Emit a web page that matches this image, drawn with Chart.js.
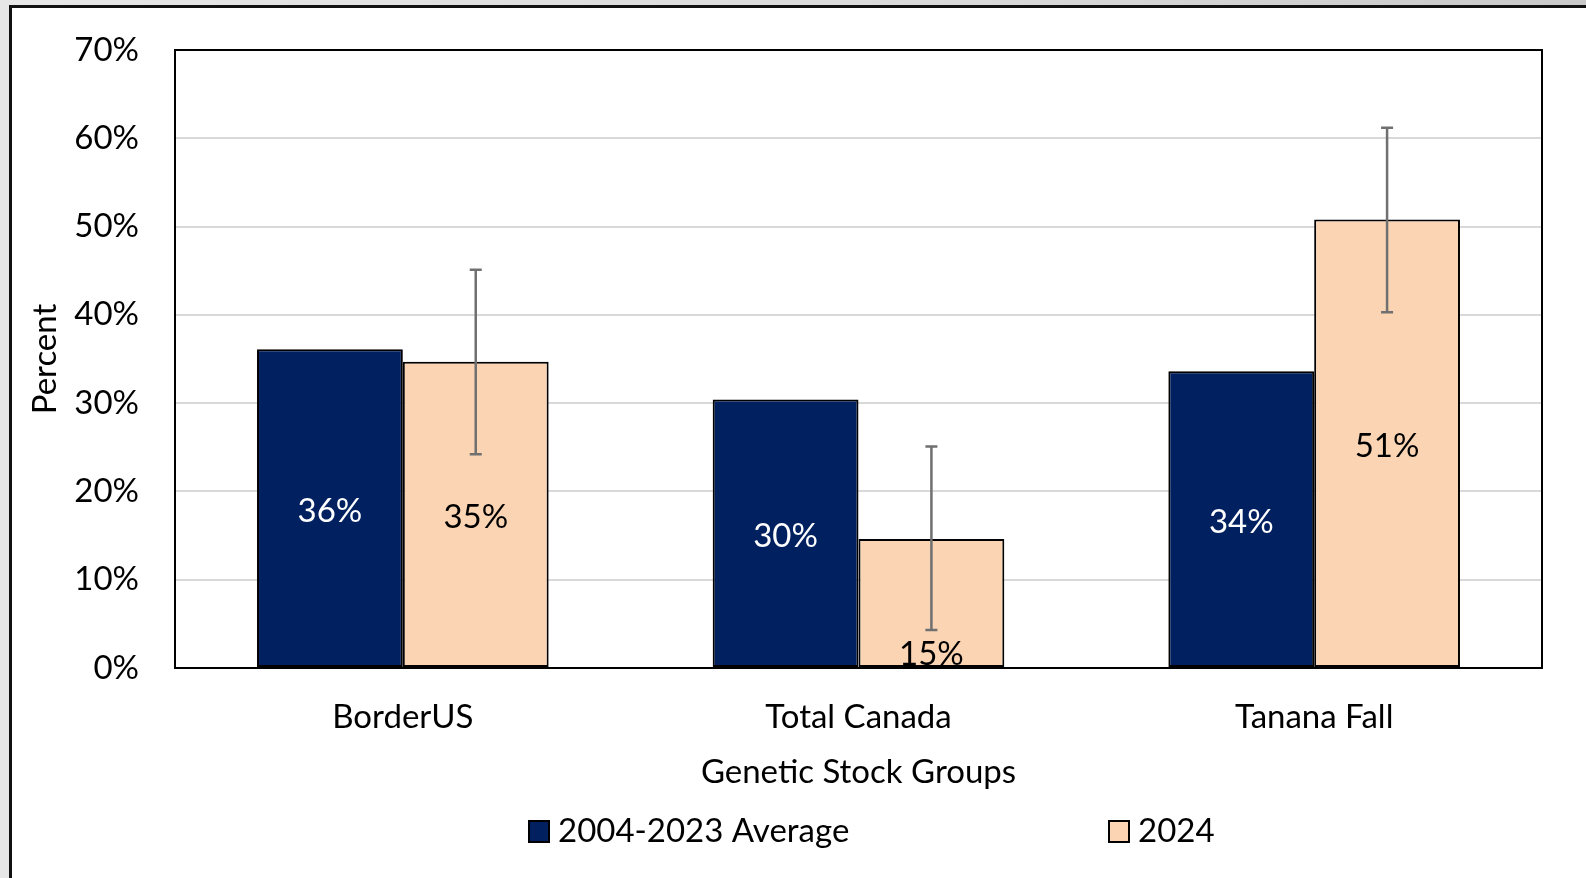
<!DOCTYPE html>
<html>
<head>
<meta charset="utf-8">
<script src="https://cdn.jsdelivr.net/npm/chart.js@4"></script>
<style>
  html, body { margin: 0; padding: 0; }
  body { width: 1586px; height: 878px; overflow: hidden; background: linear-gradient(90deg, #e6e6e6 0%, #d9d9d9 60%, #c9c9c9 100%); position: relative; }
  #frame { position: absolute; left: 9px; top: 5px; width: 1577px; height: 873px; border-left: 3px solid #111; border-top: 3px solid #111; background: #fff; }
  #wrap { position: absolute; left: 0; top: 0; width: 1574px; height: 870px; }
</style>
</head>
<body>
<div id="frame"><div id="wrap"><canvas id="c" width="1574" height="870"></canvas></div></div>
<script>
// ---- data ----
const categories = ['BorderUS', 'Total Canada', 'Tanana Fall'];
const seriesNames = ['2004-2023 Average', '2024'];
const avgValues = [36.1, 30.4, 33.6];
const y2024Values = [34.7, 14.6, 50.8];
const y2024ErrLow = [24.2, 4.3, 40.3];
const y2024ErrHigh = [45.1, 25.1, 61.2];
const avgLabels = ['36%', '30%', '34%'];
const y2024Labels = ['35%', '15%', '51%'];
const yTicks = [0, 10, 20, 30, 40, 50, 60, 70];

const FONT = 'Lato, "Noto Sans", sans-serif';
const FS = 33;

const errorBarPlugin = {
  id: 'errorBars',
  afterDatasetsDraw(chart) {
    const ctx = chart.ctx;
    const yScale = chart.scales.y;
    const meta = chart.getDatasetMeta(1);
    ctx.save();
    ctx.strokeStyle = '#707070';
    ctx.lineWidth = 2.5;
    meta.data.forEach((bar, i) => {
      const x = bar.x;
      const yl = yScale.getPixelForValue(y2024ErrLow[i]);
      const yh = yScale.getPixelForValue(y2024ErrHigh[i]);
      ctx.beginPath();
      ctx.moveTo(x, yl); ctx.lineTo(x, yh);
      ctx.moveTo(x - 6, yl); ctx.lineTo(x + 6, yl);
      ctx.moveTo(x - 6, yh); ctx.lineTo(x + 6, yh);
      ctx.stroke();
    });
    ctx.restore();
  }
};

const dataLabelPlugin = {
  id: 'dataLabels',
  afterDatasetsDraw(chart) {
    const ctx = chart.ctx;
    ctx.save();
    ctx.font = FS + 'px ' + FONT;
    ctx.textAlign = 'center';
    ctx.textBaseline = 'middle';
    const sets = [
      { labels: avgLabels, color: '#ffffff' },
      { labels: y2024Labels, color: '#000000' }
    ];
    sets.forEach((s, di) => {
      const meta = chart.getDatasetMeta(di);
      meta.data.forEach((bar, i) => {
        let y = (bar.y + bar.base) / 2 + 3;
        const v = chart.data.datasets[di].data[i];
        if (di === 1 && v < 20) y = bar.base - 13; // inside base
        ctx.fillStyle = s.color;
        ctx.fillText(s.labels[i], bar.x, y);
      });
    });
    ctx.restore();
  }
};

const frameLegendPlugin = {
  id: 'frameLegend',
  afterDraw(chart) {
    const ctx = chart.ctx;
    const a = chart.chartArea;
    ctx.save();
    ctx.strokeStyle = '#000';
    ctx.lineWidth = 2;
    ctx.strokeRect(a.left, a.top, a.right - a.left, a.bottom - a.top);
    // legend
    ctx.font = FS + 'px ' + FONT;
    ctx.textBaseline = 'middle';
    ctx.textAlign = 'left';
    const starts = [517, 1097];
    const cy = 823;
    chart.data.datasets.forEach((ds, i) => {
      const x = starts[i];
      ctx.fillStyle = ds.backgroundColor;
      ctx.fillRect(x, cy - 10, 20, 21);
      ctx.lineWidth = 2;
      ctx.strokeStyle = '#000';
      ctx.strokeRect(x, cy - 10, 20, 21);
      ctx.fillStyle = '#000';
      ctx.fillText(ds.label, x + 29, cy);
    });
    ctx.restore();
  }
};

new Chart(document.getElementById('c'), {
  type: 'bar',
  data: {
    labels: categories,
    datasets: [
      { label: seriesNames[0], data: avgValues, backgroundColor: '#002060', borderColor: '#000', borderWidth: 2, borderSkipped: false },
      { label: seriesNames[1], data: y2024Values, backgroundColor: '#FAD4B3', borderColor: '#000', borderWidth: 2, borderSkipped: false }
    ]
  },
  options: {
    responsive: false,
    animation: false,
    devicePixelRatio: 1,
    layout: { padding: { left: 0, top: 42, right: 44, bottom: 86 } },
    datasets: { bar: { categoryPercentage: 0.64, barPercentage: 1.0 } },
    plugins: { legend: { display: false }, tooltip: { enabled: false } },
    scales: {
      x: {
        grid: { display: false, drawTicks: false },
        border: { display: false },
        ticks: { color: '#000', font: { family: FONT, size: FS }, padding: 30 },
        title: { display: true, text: 'Genetic Stock Groups', color: '#000', font: { family: FONT, size: FS }, padding: { top: 0, bottom: 0 } },
        afterFit(s) { s.height = 124; s.paddingLeft = 0; s.paddingRight = 0; }
      },
      y: {
        min: 0, max: 70,
        afterBuildTicks(s) { s.ticks = yTicks.map(v => ({ value: v })); },
        grid: { color: '#d9d9d9', lineWidth: 2, drawTicks: false },
        border: { display: false },
        ticks: { color: '#000', font: { family: FONT, size: FS }, padding: 36, callback: v => v + '%' },
        title: { display: true, text: 'Percent', color: '#000', font: { family: FONT, size: FS }, padding: { top: 14, bottom: 0 } },
        afterFit(s) { s.width = 163; s.paddingTop = 0; s.paddingBottom = 0; }
      }
    }
  },
  plugins: [errorBarPlugin, dataLabelPlugin, frameLegendPlugin]
});
</script>
</body>
</html>
